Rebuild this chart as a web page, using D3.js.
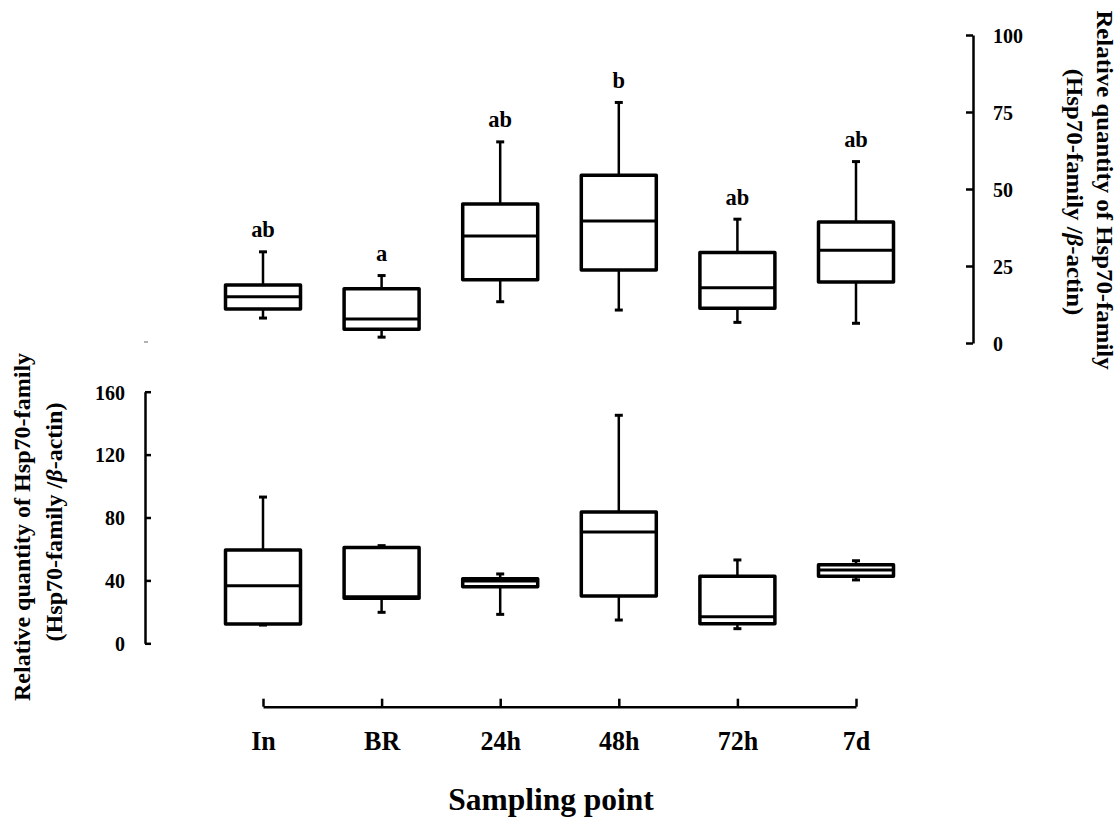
<!DOCTYPE html>
<html>
<head>
<meta charset="utf-8">
<script src="https://cdn.jsdelivr.net/npm/d3@7"></script>
<style>
  body { margin: 0; background: #fff; }
  svg text { font-family: "Liberation Serif", "Times New Roman", serif; font-weight: bold; fill: #000; }
</style>
</head>
<body>
<div id="chart"></div>
<script>
// Sampling points along the x axis
const categories = ["In", "BR", "24h", "48h", "72h", "7d"];

// Upper panel (right axis, 0-100) - box plot summary
const topMin    = [8.1, 1.9, 13.4, 10.7, 6.7, 6.4];
const topQ1     = [11.0, 4.5, 20.5, 23.7, 11.3, 19.8];
const topMedian = [15.0, 7.8, 34.7, 39.6, 17.9, 30.1];
const topQ3     = [18.8, 17.6, 45.1, 54.5, 29.4, 39.3];
const topMax    = [29.6, 21.9, 65.3, 78.1, 40.2, 58.9];
const topLetters = ["ab", "a", "ab", "b", "ab", "ab"];
const topTicks = [0, 25, 50, 75, 100];

// Lower panel (left axis, 0-160)
const botMin    = [11.6, 19.7, 18.4, 14.8, 9.3, 40.3];
const botQ1     = [12.3, 28.6, 36.0, 30.1, 12.5, 42.6];
const botMedian = [36.6, 29.6, 39.6, 70.8, 16.9, 46.6];
const botQ3     = [59.3, 61.0, 41.1, 83.5, 42.6, 50.0];
const botMax    = [93.0, 62.1, 44.1, 145, 53.0, 52.5];
const botTicks = [0, 40, 80, 120, 160];

const W = 1120, H = 817;

const svg = d3.select("#chart").append("svg")
  .attr("width", W)
  .attr("height", H);

const x = d3.scalePoint().domain(categories).range([263, 856]);
const yTop = d3.scaleLinear().domain([0, 100]).range([343, 35]);
const yBot = d3.scaleLinear().domain([0, 160]).range([643.3, 391.7]);

// helper: text with a slight vertical stretch (the source figure is stretched)
// parts = string or [{t, italic}]
function addText(parent, parts, tx, ty, size, rot, anchor, s) {
  s = s || 1.08;
  const t = parent.append("text")
    .attr("transform", `translate(${tx},${ty}) scale(1,${s})` + (rot ? ` rotate(${rot})` : ""))
    .attr("text-anchor", anchor || "middle")
    .style("font-size", size + "px");
  if (typeof parts === "string") {
    t.text(parts);
  } else {
    parts.forEach(p => {
      t.append("tspan").style("font-style", p.italic ? "italic" : "normal").text(p.t);
    });
  }
  return t;
}

function drawBoxes(g, y, mins, q1s, meds, q3s, maxs) {
  const half = 37.5, cap = 4;
  const rows = categories.map((c, i) => ({ c: c, min: mins[i], q1: q1s[i], med: meds[i], q3: q3s[i], max: maxs[i] }));
  const b = g.selectAll(".box").data(rows).enter().append("g").attr("class", "box");

  // whiskers
  b.append("line")
    .attr("x1", d => x(d.c)).attr("x2", d => x(d.c))
    .attr("y1", d => y(d.max)).attr("y2", d => y(d.q3))
    .attr("stroke", "#000").attr("stroke-width", 2.5);
  b.append("line")
    .attr("x1", d => x(d.c)).attr("x2", d => x(d.c))
    .attr("y1", d => y(d.q1)).attr("y2", d => y(d.min))
    .attr("stroke", "#000").attr("stroke-width", 2.5);
  // caps
  b.append("line")
    .attr("x1", d => x(d.c) - cap).attr("x2", d => x(d.c) + cap)
    .attr("y1", d => y(d.max)).attr("y2", d => y(d.max))
    .attr("stroke", "#000").attr("stroke-width", 3);
  b.append("line")
    .attr("x1", d => x(d.c) - cap).attr("x2", d => x(d.c) + cap)
    .attr("y1", d => y(d.min)).attr("y2", d => y(d.min))
    .attr("stroke", "#000").attr("stroke-width", 3);
  // box
  b.append("rect")
    .attr("x", d => x(d.c) - half)
    .attr("width", half * 2)
    .attr("y", d => y(d.q3))
    .attr("height", d => y(d.q1) - y(d.q3))
    .attr("fill", "#fff")
    .attr("stroke", "#000").attr("stroke-width", 3.5)
    .attr("stroke-linejoin", "round");
  // median
  b.append("line")
    .attr("x1", d => x(d.c) - half).attr("x2", d => x(d.c) + half)
    .attr("y1", d => y(d.med)).attr("y2", d => y(d.med))
    .attr("stroke", "#000").attr("stroke-width", 3);
}

// ---------- upper panel ----------
const gTop = svg.append("g");
drawBoxes(gTop, yTop, topMin, topQ1, topMedian, topQ3, topMax);

// significance letters above the upper whiskers
categories.forEach((c, i) => {
  addText(gTop, topLetters[i], x(c), yTop(topMax[i]) - 14.5, 22.5, 0, "middle", 1.05);
});

// right axis
const axTop = svg.append("g")
  .attr("transform", "translate(973,0)")
  .call(d3.axisRight(yTop).tickValues(topTicks).tickSizeInner(-7).tickSizeOuter(0).tickPadding(20));
axTop.select(".domain").attr("stroke-width", 2.5);
axTop.selectAll(".tick line").attr("stroke-width", 2.5);
axTop.selectAll(".tick text")
  .attr("dy", "0.34em")
  .attr("transform", "scale(1,1.08)")
  .style("font-size", "20px")
  .style("font-family", null);

addText(svg, "Relative quantity of Hsp70-family", 1097, 190, 23, 90, "middle");
addText(svg, [{ t: "(Hsp70-family /" }, { t: "β", italic: true }, { t: "-actin)" }], 1067, 192, 23, 90, "middle");

// stray mark left of the upper panel
svg.append("line")
  .attr("x1", 144).attr("x2", 148)
  .attr("y1", yTop(0) - 1).attr("y2", yTop(0) - 1)
  .attr("stroke", "#999").attr("stroke-width", 1.5);

// ---------- lower panel ----------
const gBot = svg.append("g");
drawBoxes(gBot, yBot, botMin, botQ1, botMedian, botQ3, botMax);

const axBot = svg.append("g")
  .attr("transform", "translate(145,0)")
  .call(d3.axisLeft(yBot).tickValues(botTicks).tickSizeInner(-6).tickSizeOuter(0).tickPadding(20));
axBot.select(".domain").attr("stroke-width", 2.5);
axBot.selectAll(".tick line").attr("stroke-width", 2.5);
axBot.selectAll(".tick text")
  .attr("dy", "0.34em")
  .attr("transform", "scale(1,1.08)")
  .style("font-size", "20px")
  .style("font-family", null);

addText(svg, "Relative quantity of Hsp70-family", 30, 527, 22.3, -90, "middle");
addText(svg, [{ t: "(Hsp70-family /" }, { t: "β", italic: true }, { t: "-actin)" }], 62, 522, 22.3, -90, "middle");

// x axis
const axX = svg.append("g")
  .attr("transform", "translate(0,706.7)")
  .call(d3.axisBottom(x).tickSizeInner(-8).tickSizeOuter(0).tickPadding(0));
axX.select(".domain").attr("stroke-width", 2.5);
axX.selectAll(".tick line").attr("stroke-width", 2.5);
axX.selectAll(".tick text")
  .attr("y", null).attr("dy", null)
  .attr("transform", "translate(0,43.5) scale(1,1.05)")
  .style("font-size", "26px")
  .style("font-family", null);

addText(svg, "Sampling point", 551, 810, 31.5, 0, "middle", 1.02);
</script>
</body>
</html>
